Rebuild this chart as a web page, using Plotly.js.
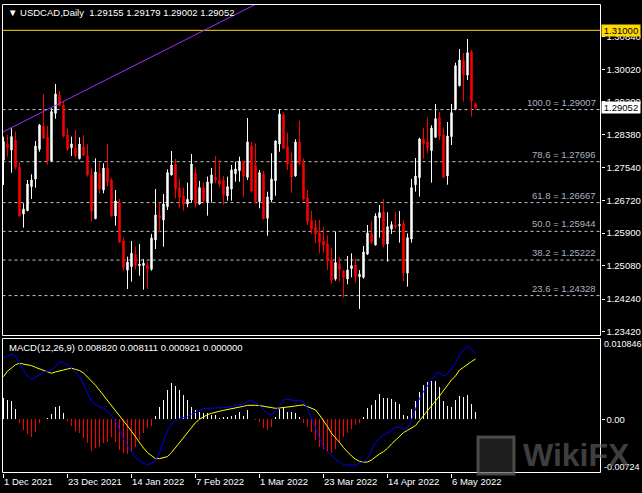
<!DOCTYPE html>
<html>
<head>
<meta charset="utf-8">
<script src="https://cdn.plot.ly/plotly-3.0.1.min.js"></script>
<style>html,body{margin:0;padding:0;background:#000;}#chart{width:642px;height:493px;}</style>
</head>
<body>
<div id="chart"></div>
<script>
// ---------- DATA ----------
const symbol = "USDCAD,Daily";
const opens = [1.27739,1.28141,1.27990,1.28242,1.27554,1.26381,1.26465,1.27068,1.27261,1.28007,
1.28594,1.28309,1.27714,1.28913,1.29374,1.29122,1.28368,1.28049,1.28041,1.27772,
1.28066,1.27839,1.27362,1.26263,1.27404,1.26984,1.27538,1.27236,1.26330,1.26666,
1.25702,1.24972,1.25056,1.25358,1.25081,1.25090,1.25090,1.24989,1.25727,1.26339,
1.26230,1.26565,1.27362,1.27638,1.27035,1.26833,1.26632,1.26733,1.27404,1.26632,
1.27043,1.26674,1.27152,1.27303,1.27236,1.27219,1.26833,1.27009,1.27395,1.27471,
1.27705,1.27303,1.28091,1.27613,1.26691,1.27387,1.26272,1.26733,1.27219,1.28141,
1.28871,1.28074,1.27655,1.27336,1.28192,1.27672,1.26791,1.26213,1.26045,1.25903,
1.25702,1.25635,1.25224,1.24746,1.25123,1.24947,1.24746,1.25006,1.25098,1.24805,
1.24788,1.25375,1.25886,1.25601,1.26288,1.26431,1.25626,1.26003,1.26096,1.26087,
1.26137,1.24897,1.25752,1.27118,1.27295,1.28267,1.28192,1.27974,1.28309,1.28804,
1.28376,1.27336,1.28326,1.29014,1.29608,1.30236,1.29877,1.30463,1.29155];
const highs = [1.28326,1.28368,1.28535,1.28451,1.27680,1.26649,1.27236,1.27378,1.28217,1.28644,
1.29399,1.28594,1.29038,1.29650,1.29474,1.29206,1.28535,1.28326,1.28493,1.28309,
1.28368,1.28133,1.27529,1.27781,1.27672,1.27655,1.28141,1.27278,1.26984,1.26758,
1.25794,1.25308,1.25702,1.25559,1.25626,1.25249,1.25182,1.25878,1.27009,1.26674,
1.26884,1.27504,1.27965,1.27764,1.27261,1.27043,1.27169,1.27890,1.27554,1.27211,
1.27169,1.27320,1.27538,1.27839,1.27739,1.27336,1.27320,1.27613,1.27697,1.27823,
1.27710,1.28795,1.28200,1.28158,1.27487,1.27471,1.26942,1.27907,1.28230,1.29013,
1.28938,1.28426,1.27923,1.28259,1.28728,1.27781,1.26984,1.26456,1.26230,1.26230,
1.26045,1.25844,1.25517,1.25936,1.25299,1.24973,1.25324,1.25391,1.25266,1.24972,
1.25576,1.26104,1.26188,1.26398,1.26607,1.26758,1.26423,1.26196,1.26431,1.26456,
1.26230,1.25894,1.27261,1.27789,1.28301,1.28552,1.28804,1.28611,1.29147,1.28946,
1.28552,1.28695,1.29147,1.30186,1.30531,1.30423,1.30782,1.30505,1.29179];
const lows = [1.27110,1.27823,1.27420,1.27504,1.26310,1.26037,1.26450,1.26758,1.27043,1.27948,
1.28259,1.27622,1.27700,1.28778,1.29090,1.28309,1.27965,1.27839,1.27781,1.27756,
1.27850,1.27320,1.26188,1.26250,1.26900,1.26900,1.27068,1.26314,1.26087,1.25660,
1.24955,1.24494,1.24679,1.24989,1.24830,1.24478,1.24494,1.24955,1.25500,1.25936,
1.25559,1.26481,1.27350,1.26775,1.26540,1.26465,1.26548,1.26666,1.26548,1.26607,
1.26666,1.26339,1.26666,1.27152,1.27051,1.26615,1.26716,1.26716,1.27194,1.27194,
1.26800,1.27236,1.26917,1.26649,1.26523,1.26250,1.25836,1.26674,1.26842,1.27948,
1.28015,1.27487,1.26909,1.27320,1.27605,1.26716,1.26104,1.25878,1.25643,1.25391,
1.25408,1.24973,1.24620,1.24704,1.24679,1.24276,1.24612,1.24788,1.24654,1.23991,
1.24754,1.25349,1.25626,1.25590,1.25785,1.25542,1.25182,1.25878,1.26012,1.25660,
1.24696,1.24553,1.25660,1.26942,1.26817,1.27772,1.27907,1.27169,1.28300,1.28242,
1.27278,1.27118,1.28116,1.28990,1.29590,1.29205,1.29751,1.28828,1.29002];
const closes = [1.28200,1.28049,1.28326,1.27554,1.26330,1.26506,1.27135,1.27236,1.28091,1.28619,
1.28284,1.27714,1.28955,1.29399,1.29105,1.28342,1.28015,1.28141,1.27848,1.28141,
1.27856,1.27362,1.26456,1.27437,1.27009,1.27538,1.27194,1.26330,1.26708,1.25676,
1.25031,1.25173,1.25391,1.25090,1.25115,1.25140,1.24997,1.25777,1.26356,1.26280,
1.26632,1.27420,1.27613,1.27009,1.26800,1.26624,1.26749,1.27638,1.26649,1.27043,
1.26716,1.27186,1.27362,1.27236,1.27135,1.26859,1.27068,1.27487,1.27512,1.27705,
1.27336,1.28192,1.26959,1.26691,1.27420,1.26263,1.26808,1.27261,1.28217,1.28896,
1.28032,1.27638,1.27311,1.28192,1.27655,1.26758,1.26188,1.26003,1.25878,1.25668,
1.25601,1.25198,1.24721,1.25157,1.24989,1.24779,1.24973,1.25081,1.24821,1.24863,
1.25425,1.25903,1.25676,1.26330,1.26414,1.25601,1.26062,1.26112,1.26054,1.26112,
1.24897,1.25785,1.27043,1.27336,1.28267,1.28150,1.28049,1.28544,1.28778,1.28342,
1.27303,1.28342,1.28929,1.30111,1.30254,1.29877,1.30438,1.29223,1.29052];

// MACD(12,26,9) buffers
const macdMain = [0.00820,0.00856,0.00874,0.00852,0.00753,0.00655,0.00583,0.00538,0.00565,0.00596,
0.00641,0.00641,0.00663,0.00708,0.00776,0.00762,0.00731,0.00686,0.00641,0.00583,
0.00475,0.00359,0.00238,0.00197,0.00175,0.00148,0.00112,0.00049,-0.00031,-0.00157,
-0.00260,-0.00354,-0.00439,-0.00511,-0.00560,-0.00592,-0.00610,-0.00592,-0.00551,-0.00444,
-0.00296,-0.00157,-0.00063,-0.00018,0.00009,0.00027,0.00036,0.00067,0.00094,0.00117,
0.00143,0.00148,0.00148,0.00148,0.00152,0.00157,0.00161,0.00170,0.00179,0.00193,
0.00206,0.00238,0.00251,0.00224,0.00184,0.00126,0.00076,0.00063,0.00112,0.00188,
0.00260,0.00269,0.00256,0.00251,0.00260,0.00229,0.00148,0.00009,-0.00121,-0.00256,
-0.00368,-0.00435,-0.00484,-0.00538,-0.00569,-0.00610,-0.00614,-0.00614,-0.00614,-0.00592,
-0.00569,-0.00525,-0.00412,-0.00314,-0.00251,-0.00211,-0.00179,-0.00143,-0.00108,-0.00108,
-0.00134,-0.00121,-0.00009,0.00134,0.00282,0.00372,0.00448,0.00529,0.00610,0.00632,
0.00583,0.00610,0.00677,0.00753,0.00865,0.00932,0.00986,0.00941,0.008820];
const macdSignal = [0.00574,0.00650,0.00690,0.00735,0.00753,0.00744,0.00735,0.00722,0.00699,0.00681,
0.00663,0.00641,0.00619,0.00637,0.00655,0.00663,0.00677,0.00686,0.00672,0.00655,
0.00623,0.00569,0.00516,0.00457,0.00390,0.00323,0.00260,0.00193,0.00126,0.00058,
-0.00018,-0.00090,-0.00161,-0.00242,-0.00323,-0.00386,-0.00448,-0.00493,-0.00529,-0.00529,
-0.00520,-0.00502,-0.00448,-0.00381,-0.00314,-0.00242,-0.00170,-0.00099,-0.00045,0.00000,
0.00036,0.00063,0.00081,0.00099,0.00108,0.00121,0.00130,0.00143,0.00152,0.00161,
0.00175,0.00188,0.00193,0.00188,0.00184,0.00175,0.00161,0.00148,0.00148,0.00152,
0.00157,0.00161,0.00170,0.00179,0.00188,0.00193,0.00170,0.00148,0.00126,0.00058,
-0.00018,-0.00099,-0.00188,-0.00247,-0.00309,-0.00381,-0.00439,-0.00493,-0.00538,-0.00565,
-0.00578,-0.00574,-0.00547,-0.00502,-0.00466,-0.00435,-0.00390,-0.00332,-0.00278,-0.00220,
-0.00179,-0.00148,-0.00121,-0.00085,-0.00018,0.00045,0.00112,0.00179,0.00247,0.00314,
0.00386,0.00444,0.00529,0.00583,0.00663,0.00699,0.00744,0.00776,0.008111];
const macdHist = [0.00282,0.00260,0.00251,0.00134,-0.00045,-0.00143,-0.00202,-0.00233,-0.00166,-0.00045,
0.00004,0.00013,0.00072,0.00161,0.00179,0.00081,-0.00018,-0.00090,-0.00152,-0.00179,
-0.00256,-0.00323,-0.00421,-0.00390,-0.00368,-0.00323,-0.00300,-0.00233,-0.00300,-0.00412,
-0.00448,-0.00466,-0.00435,-0.00368,-0.00278,-0.00188,-0.00121,-0.00090,0.00045,0.00161,
0.00260,0.00394,0.00484,0.00448,0.00394,0.00327,0.00260,0.00170,0.00126,0.00103,
0.00081,0.00081,0.00058,0.00058,0.00013,0.00027,0.00036,0.00045,0.00058,0.00103,
0.00045,0.00126,0.00009,-0.00009,-0.00031,-0.00121,-0.00143,-0.00099,0.00036,0.00134,
0.00148,0.00103,0.00103,0.00081,0.00036,-0.00054,-0.00099,-0.00166,-0.00278,-0.00368,
-0.00403,-0.00435,-0.00457,-0.00403,-0.00323,-0.00242,-0.00188,-0.00134,-0.00076,-0.00045,
0.00036,0.00148,0.00193,0.00260,0.00341,0.00291,0.00282,0.00273,0.00229,0.00202,
0.00058,0.00049,0.00139,0.00251,0.00372,0.00462,0.00507,0.00516,0.00516,0.00430,
0.00251,0.00179,0.00170,0.00260,0.00314,0.00305,0.00327,0.00206,0.000921];
const macdExtra = 0.000000;

// x-axis tick labels
const tickDates = ['2021-12-01','2021-12-23','2022-01-14','2022-02-07','2022-03-01','2022-03-23','2022-04-14','2022-05-06'];
const tickText = ['1 Dec 2021','23 Dec 2021','14 Jan 2022','7 Feb 2022','1 Mar 2022','23 Mar 2022','14 Apr 2022','6 May 2022'];
// price axis labels
const priceTicks = [1.23420,1.24240,1.25080,1.25900,1.26720,1.27540,1.28380,1.29200,1.30020,1.30840];
// Fibonacci retracement levels
const fibLevels = ['100.0','78.6','61.8','50.0','38.2','23.6'];
const fibPrices = [1.29007,1.27696,1.26667,1.25944,1.25222,1.24328];
// horizontal alert line
const alertPrice = 1.31000;
// trend line anchors (bar index, price)
const trendX = [-1, 70];
const trendY = [1.28401, 1.32008];
// MACD scale labels
const macdMaxLabel = '0.010846', macdMinLabel = '-0.00724';

// trading days (Mon-Fri) starting 1 Dec 2021
function tradingDays(start, n){
  const out=[]; const d=new Date(start+'T00:00:00Z');
  while(out.length<n){const w=d.getUTCDay(); if(w!==0&&w!==6) out.push(d.toISOString().slice(0,10)); d.setUTCDate(d.getUTCDate()+1);}
  return out;
}
const dates = tradingDays('2021-12-01', closes.length);
const idx = dates.map((_, i) => i);
const tickIdx = tickDates.map(d => dates.indexOf(d));

// ---------- STYLE ----------
const FONT = 'Liberation Sans, Arial, sans-serif';
const FS = 9.5;
const L = 2.5/642, R = 600.5/642;
const mainTop = (493-4.5)/493, mainBot = (493-335.5)/493;
const macdTop = (493-338.5)/493, macdBot = (493-472.5)/493;

const traces = [
  {type:'candlestick', x: idx, open: opens, high: highs, low: lows, close: closes,
   xaxis:'x', yaxis:'y', whiskerwidth:0, hoverinfo:'skip',
   increasing:{line:{color:'#ffffff', width:1}, fillcolor:'#ffffff'},
   decreasing:{line:{color:'#ff0000', width:1}, fillcolor:'#ff0000'}},
  {type:'scatter', mode:'lines', x: trendX, y: trendY, xaxis:'x', yaxis:'y',
   line:{color:'#9b30ff', width:1}, hoverinfo:'skip'},
  {type:'bar', x: idx, y: macdHist, xaxis:'x', yaxis:'y2', width:0.25,
   marker:{color: macdHist.map(v => v >= 0 ? '#ffffff' : '#ff0000'), line:{width:0}}, hoverinfo:'skip'},
  {type:'scatter', mode:'lines', x: idx, y: macdSignal, xaxis:'x', yaxis:'y2',
   line:{color:'#ffff00', width:1}, hoverinfo:'skip'},
  {type:'scatter', mode:'lines', x: idx, y: macdMain, xaxis:'x', yaxis:'y2',
   line:{color:'#0000ff', width:1}, hoverinfo:'skip'}
];

const shapes = [];
fibPrices.forEach(p => shapes.push({type:'line', xref:'paper', yref:'y', x0:L, x1:R, y0:p, y1:p,
  line:{color:'#c8c8c8', width:1, dash:'3px,3px'}, layer:'below'}));
shapes.push({type:'line', xref:'paper', yref:'y', x0:L, x1:R, y0:alertPrice, y1:alertPrice,
  line:{color:'#ffd700', width:1}, layer:'below'});
shapes.push({type:'rect', xref:'paper', yref:'paper', x0:L, x1:R, y0:mainBot, y1:mainTop, line:{color:'#ffffff', width:1}});
shapes.push({type:'rect', xref:'paper', yref:'paper', x0:L, x1:R, y0:macdBot, y1:macdTop, line:{color:'#ffffff', width:1}});
// watermark logo box
shapes.push({type:'rect', xref:'paper', yref:'paper', x0:478/642, x1:514/642, y0:(493-474)/493, y1:(493-437)/493,
  line:{color:'rgba(100,100,100,0.7)', width:3}, fillcolor:'rgba(60,60,60,0.5)'});

const last = closes.length - 1;
const annotations = [
  {xref:'paper', yref:'paper', x:6/642, y:(493-12.7)/493, xanchor:'left', yanchor:'middle', showarrow:false,
   text:'▼ ' + symbol + '  ' + [opens[last], highs[last], lows[last], closes[last]].map(v=>v.toFixed(5)).join(' '),
   font:{family:FONT, size:FS, color:'#ffffff'}},
  {xref:'paper', yref:'paper', x:7/642, y:(493-347)/493, xanchor:'left', yanchor:'middle', showarrow:false,
   text:'MACD(12,26,9) ' + [macdMain[last], macdSignal[last], macdHist[last], macdExtra].map(v=>v.toFixed(6)).join(' '),
   font:{family:FONT, size:FS, color:'#ffffff'}},
  {xref:'paper', yref:'y', x:601/642, y:alertPrice, xanchor:'left', yanchor:'middle', showarrow:false,
   text:alertPrice.toFixed(5), bgcolor:'#ffd700', width:38, height:11, borderpad:0,
   font:{family:FONT, size:FS, color:'#000000'}},
  {xref:'paper', yref:'y', x:601/642, y:closes[last], xanchor:'left', yanchor:'middle', showarrow:false,
   text:closes[last].toFixed(5), bgcolor:'#ffffff', width:38, height:11, borderpad:0,
   font:{family:FONT, size:FS, color:'#000000'}},
  {xref:'paper', yref:'paper', x:602/642, y:(493-344)/493, xanchor:'left', yanchor:'middle', showarrow:false,
   text:macdMaxLabel, font:{family:FONT, size:9, color:'#ffffff'}},
  {xref:'paper', yref:'paper', x:602/642, y:(493-466.7)/493, xanchor:'left', yanchor:'middle', showarrow:false,
   text:macdMinLabel, font:{family:FONT, size:9, color:'#ffffff'}},
  {xref:'paper', yref:'paper', x:521/642, y:(493-455)/493, xanchor:'left', yanchor:'middle', showarrow:false,
   text:'<b>WikiFX</b>', font:{family:FONT, size:32, color:'rgba(100,100,100,0.65)'}}
];
fibLevels.forEach((lv, k) => annotations.push({xref:'paper', yref:'y', x:598/642, y:fibPrices[k],
  xanchor:'right', yanchor:'bottom', yshift:0, showarrow:false, text: lv + ' = ' + fibPrices[k].toFixed(5),
  font:{family:FONT, size:FS, color:'#a9b3c1'}}));

const layout = {
  width:642, height:493, margin:{l:0, r:0, t:0, b:0},
  paper_bgcolor:'#000000', plot_bgcolor:'#000000', showlegend:false,
  boxgap:0.5, bargap:0,
  xaxis:{domain:[L, R], range:[-0.25, 149.25], anchor:'y2', type:'linear',
    showgrid:false, zeroline:false, showline:false,
    tickvals: tickIdx, ticktext: tickText, ticks:'outside', ticklen:4, tickcolor:'#ffffff',
    ticklabelposition:'outside right', tickfont:{family:FONT, size:FS, color:'#ffffff'},
    rangeslider:{visible:false}, fixedrange:true, automargin:false},
  yaxis:{domain:[mainBot, mainTop], range:[1.233244, 1.316499], anchor:'x', side:'right',
    showgrid:false, zeroline:false, showline:false,
    tickvals: priceTicks, ticktext: priceTicks.map(v=>v.toFixed(5)),
    ticks:'outside', ticklen:3, tickcolor:'#ffffff',
    tickfont:{family:FONT, size:FS, color:'#ffffff'}, fixedrange:true, automargin:false},
  yaxis2:{domain:[macdBot, macdTop], range:[-0.0071554, 0.010868], anchor:'x', side:'right',
    showgrid:false, zeroline:false, showline:false,
    tickvals:[0], ticktext:['0.00'], ticks:'outside', ticklen:3, tickcolor:'#ffffff',
    tickfont:{family:FONT, size:FS, color:'#ffffff'}, fixedrange:true, automargin:false},
  shapes: shapes, annotations: annotations
};

Plotly.newPlot('chart', traces, layout, {staticPlot:true, displayModeBar:false});
</script>
</body>
</html>
